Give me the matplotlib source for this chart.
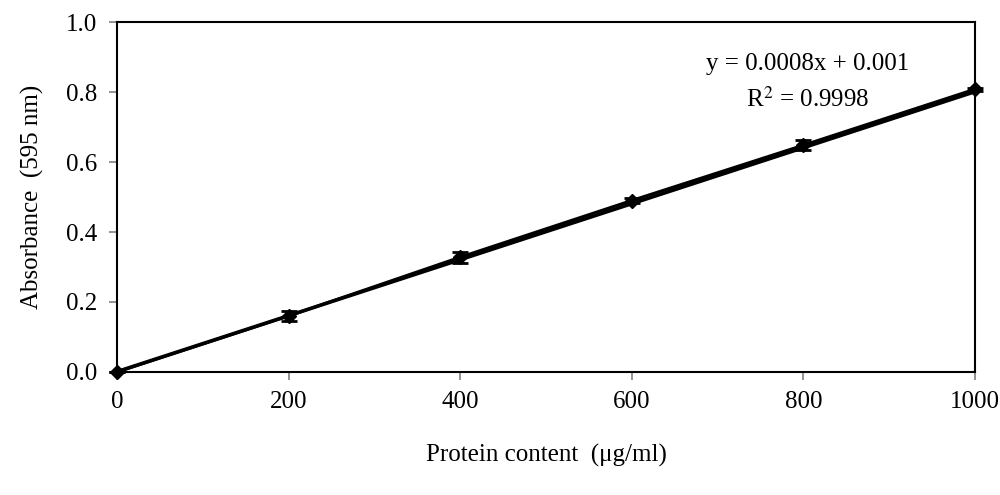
import numpy as np
import matplotlib.pyplot as plt

# protein standard curve (Bradford)
conc = [0, 200, 400, 600, 800, 1000]
absorb = [0.0, 0.160, 0.328, 0.490, 0.648, 0.808]
err = [0.0, 0.014, 0.016, 0.007, 0.014, 0.004]
slope, intercept = 0.0008, 0.001

plt.rcParams['font.family'] = ['Liberation Serif', 'DejaVu Serif']
plt.rcParams['mathtext.fontset'] = 'stix'

fig = plt.figure(figsize=(10, 4.95), dpi=100)
ax = fig.add_axes([0.117, 0.2485, 0.858, 0.707])

# linear trendline
xf = np.array([conc[0], conc[-1]])
ax.plot(xf, slope * xf + intercept, color='black', lw=2.6, zorder=2)

ax.errorbar(conc, absorb, yerr=err, color='black', lw=2.2, marker='D', ms=7,
            capsize=6, elinewidth=2.0, capthick=2.0, clip_on=False, zorder=3)

ax.set_xlim(0, 1000)
ax.set_ylim(0, 1.0)
ax.set_xticks(conc)
ax.set_yticks(np.arange(0, 1.01, 0.2))
ax.set_yticklabels(['%.1f' % v for v in np.arange(0, 1.01, 0.2)])
ax.tick_params(axis='both', labelsize=18, direction='out', length=6,
               width=1.2, color='#808080')
ax.tick_params(axis='x', pad=8)
ax.tick_params(axis='y', pad=8)
for s in ax.spines.values():
    s.set_linewidth(1.5)
    s.set_color('black')

ax.set_xlabel('Protein content  (\u03bcg/ml)', fontsize=18, labelpad=22)
ax.set_ylabel('Absorbance  (595 nm)', fontsize=18, labelpad=16)

ax.text(805, 0.88, 'y = 0.0008x + 0.001', fontsize=18, ha='center', va='center')
ax.text(805, 0.78, 'R$^2$ = 0.9998', fontsize=18, ha='center', va='center')

fig.savefig('out.png', dpi=100)
